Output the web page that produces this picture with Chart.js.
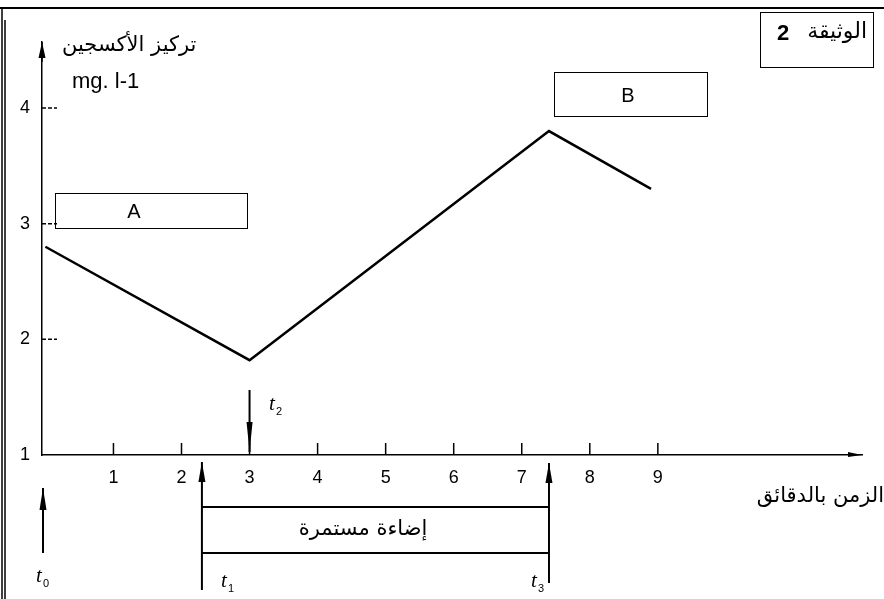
<!DOCTYPE html>
<html>
<head>
<meta charset="utf-8">
<script src="https://cdn.jsdelivr.net/npm/chart.js@4.4.1/dist/chart.umd.min.js"></script>
<style>
  body { margin: 0; background: #fff; }
  canvas { display: block; }
</style>
</head>
<body>
<canvas id="myChart" width="884" height="599"></canvas>
<script>
// time in minutes and oxygen concentration (mg/l)
const times = [0, 3, 7.4, 8.9];
const oxygen = [2.8, 1.82, 3.8, 3.3];
const xTicks = [1, 2, 3, 4, 5, 6, 7, 8, 9];
const yTicks = [1, 2, 3, 4];
// moments marked under the time axis
const markerNames = ['0', '1', '2', '3'];
const markerTimes = [0, 2.3, 3, 7.4];

const yTitle = 'تركيز الأكسجين';
const yUnit = 'mg. l-1';
const xTitle = 'الزمن بالدقائق';
const lightLabel = 'إضاءة مستمرة';
const docLabel = 'الوثيقة';
const docNumber = '2';

const arabicFont = '"DejaVu Sans", sans-serif';
const numFont = '"Liberation Sans", Arial, sans-serif';

function arrow(ctx, x, yFrom, yTo, headLen, headW) {
    ctx.beginPath();
    ctx.moveTo(x, yFrom);
    ctx.lineTo(x, yTo);
    ctx.stroke();
    const dir = yTo < yFrom ? 1 : -1;
    ctx.beginPath();
    ctx.moveTo(x, yTo);
    ctx.lineTo(x - headW / 2, yTo + dir * headLen);
    ctx.lineTo(x + headW / 2, yTo + dir * headLen);
    ctx.closePath();
    ctx.fill();
}

function tLabel(ctx, x, y, sub) {
    ctx.font = 'italic 21px "Liberation Serif", serif';
    ctx.textAlign = 'left';
    ctx.textBaseline = 'alphabetic';
    ctx.fillText('t', x, y);
    ctx.font = '11px "Liberation Sans", sans-serif';
    ctx.fillText(sub, x + 7, y + 5);
}

const decorations = {
    id: 'decorations',
    afterDraw(chart) {
        const ctx = chart.ctx;
        const xs = chart.scales.x;
        const ys = chart.scales.y;
        const area = chart.chartArea;
        ctx.save();
        ctx.strokeStyle = '#000';
        ctx.fillStyle = '#000';

        // page frame
        ctx.lineWidth = 2;
        ctx.beginPath();
        ctx.moveTo(0, 8); ctx.lineTo(884, 8);
        ctx.stroke();
        ctx.lineWidth = 1.5;
        ctx.beginPath();
        ctx.moveTo(2, 8); ctx.lineTo(2, 599);
        ctx.moveTo(5, 20); ctx.lineTo(5, 599);
        ctx.stroke();

        // inner tick marks
        ctx.lineWidth = 1.5;
        xTicks.forEach(v => {
            const x = xs.getPixelForValue(v);
            ctx.beginPath();
            ctx.moveTo(x, area.bottom);
            ctx.lineTo(x, area.bottom - 12);
            ctx.stroke();
        });
        ctx.setLineDash([4, 2]);
        yTicks.forEach(v => {
            if (v === 1) return;
            const y = ys.getPixelForValue(v);
            ctx.beginPath();
            ctx.moveTo(area.left, y);
            ctx.lineTo(area.left + 15, y);
            ctx.stroke();
        });
        ctx.setLineDash([]);

        // axis arrow heads
        arrow(ctx, area.left, area.top + 20, area.top, 16, 7);
        ctx.beginPath();
        ctx.moveTo(area.right, area.bottom);
        ctx.lineTo(area.right - 14, area.bottom - 3);
        ctx.lineTo(area.right - 14, area.bottom + 2);
        ctx.closePath();
        ctx.fill();

        // axis titles
        ctx.font = '21px ' + arabicFont;
        ctx.textBaseline = 'middle';
        ctx.textAlign = 'left';
        ctx.fillText(yTitle, 62, 46);
        ctx.font = '22px ' + numFont;
        ctx.fillText(yUnit, 72, 82);
        ctx.font = '21px ' + arabicFont;
        ctx.textAlign = 'right';
        ctx.fillText(xTitle, 884, 497);

        // label boxes A and B
        ctx.lineWidth = 1;
        ctx.strokeRect(55.5, 193.5, 192, 35);
        ctx.strokeRect(554.5, 72.5, 153, 44);
        ctx.font = '20px ' + numFont;
        ctx.textAlign = 'center';
        ctx.fillText('A', 134, 212);
        ctx.fillText('B', 628, 96);

        // document label
        ctx.strokeRect(760.5, 12.5, 113, 55);
        ctx.font = 'bold 22px ' + numFont;
        ctx.fillText(docNumber, 783, 34);
        ctx.font = '22px ' + arabicFont;
        ctx.textAlign = 'right';
        ctx.fillText(docLabel, 867, 32);

        // time markers
        const mx = markerTimes.map(t => xs.getPixelForValue(t));
        ctx.lineWidth = 2;
        arrow(ctx, area.left + 1, 553, 488, 22, 7);
        arrow(ctx, mx[1], 590, 462, 20, 7);
        arrow(ctx, mx[3], 583, 463, 20, 7);
        arrow(ctx, mx[2], 390, 452, 30, 6);

        // continuous lighting band
        ctx.lineWidth = 2;
        ctx.beginPath();
        ctx.moveTo(mx[1], 507); ctx.lineTo(mx[3], 507);
        ctx.moveTo(mx[1], 553); ctx.lineTo(mx[3], 553);
        ctx.stroke();
        ctx.font = '21px ' + arabicFont;
        ctx.textAlign = 'center';
        ctx.textBaseline = 'middle';
        ctx.fillText(lightLabel, 363, 530);

        tLabel(ctx, 36, 582, markerNames[0]);
        tLabel(ctx, 221, 587, markerNames[1]);
        tLabel(ctx, 269, 410, markerNames[2]);
        tLabel(ctx, 531, 587, markerNames[3]);

        ctx.restore();
    }
};

const ctx = document.getElementById('myChart').getContext('2d');
const myChart = new Chart(ctx, {
    type: 'line',
    data: {
        datasets: [{
            data: times.map((t, i) => ({ x: t, y: oxygen[i] })),
            borderColor: '#000',
            borderWidth: 2.5,
            pointRadius: 0,
            fill: false,
            tension: 0
        }]
    },
    options: {
        responsive: false,
        animation: false,
        layout: { padding: { top: 42, right: 22, left: 0, bottom: 0 } },
        plugins: {
            legend: { display: false },
            tooltip: { enabled: false }
        },
        scales: {
            x: {
                type: 'linear',
                min: -0.05,
                max: 12,
                afterFit: s => { s.height = 144; },
                afterBuildTicks: s => { s.ticks = xTicks.map(v => ({ value: v })); },
                grid: { display: false, drawTicks: false },
                border: { display: true, color: '#000', width: 1.5 },
                ticks: {
                    color: '#000',
                    padding: 12,
                    maxRotation: 0,
                    autoSkip: false,
                    font: { family: 'Liberation Sans', size: 18 }
                }
            },
            y: {
                type: 'linear',
                min: 1,
                max: 4.57,
                afterFit: s => { s.width = 42; },
                afterBuildTicks: s => { s.ticks = yTicks.map(v => ({ value: v })); },
                grid: { display: false, drawTicks: false },
                border: { display: true, color: '#000', width: 1.5 },
                ticks: {
                    color: '#000',
                    padding: 12,
                    font: { family: 'Liberation Sans', size: 18 }
                }
            }
        }
    },
    plugins: [decorations]
});
</script>
</body>
</html>
